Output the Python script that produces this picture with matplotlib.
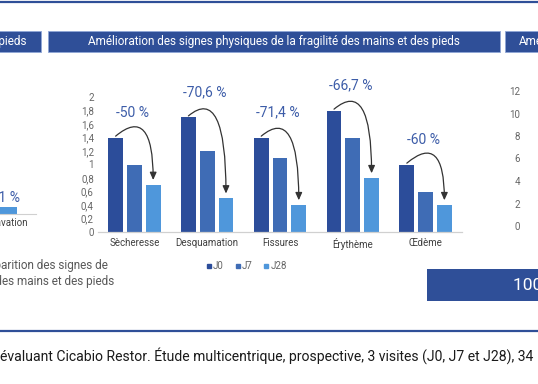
import matplotlib
matplotlib.use("Agg")
import matplotlib.pyplot as plt
from matplotlib.patches import Rectangle
from matplotlib.lines import Line2D
import numpy as np

plt.rcParams['font.family'] = ['Roboto', 'DejaVu Sans']

# ---- data ----
categories = ["Sècheresse", "Desquamation", "Fissures", "Érythème", "Œdème"]
series_names = ["J0", "J7", "J28"]
j0 = [1.4, 1.7, 1.4, 1.8, 1.0]
j7 = [1.0, 1.2, 1.1, 1.4, 0.6]
j28 = [0.7, 0.5, 0.4, 0.8, 0.4]
pct_labels = ["-50 %", "-70,6 %", "-71,4 %", "-66,7 %", "-60 %"]
y_ticks = [0, 0.2, 0.4, 0.6, 0.8, 1, 1.2, 1.4, 1.6, 1.8, 2]
y_tick_labels = ["0", "0,2", "0,4", "0,6", "0,8", "1", "1,2", "1,4", "1,6", "1,8", "2"]

left_categories = ["Aggravation"]
left_values = [5.1]
left_labels = ["5,1 %"]

right_ticks = [0, 2, 4, 6, 8, 10, 12]

# ---- style ----
C_J0 = "#2C4D9A"
C_J7 = "#3F6CB5"
C_J28 = "#4F97DB"
C_HEAD = "#2F4F98"
C_PCT = "#3C5CA8"
C_TICK = "#666666"
C_AXIS = "#D0D0D0"

W, H = 538, 384
fig = plt.figure(figsize=(W / 100, H / 100), dpi=100)

def fx(px):
    return px / W

def fy(py):
    return 1 - py / H

# top line & bottom separator line
fig.add_artist(Line2D([0, 1], [fy(1.5), fy(1.5)], color=C_HEAD, lw=1.6, transform=fig.transFigure))
fig.add_artist(Line2D([0, 1], [fy(331), fy(331)], color=C_HEAD, lw=1.6, transform=fig.transFigure))

# header boxes
for (x0, x1) in [(-5, 41), (48, 500), (505, 545)]:
    fig.add_artist(Rectangle((fx(x0), fy(52)), fx(x1 - x0), 21 / H, facecolor=C_HEAD,
                             edgecolor="#8FA6D6", lw=0.6, transform=fig.transFigure))
fig.text(fx(27), fy(41.5), "et des pieds", color="white", fontsize=8.5, ha="right", va="center")
fig.text(fx(274), fy(41.5), "Amélioration des signes physiques de la fragilité des mains et des pieds",
         color="white", fontsize=8.5, ha="center", va="center")
fig.text(fx(519), fy(41.5), "Amélioration", color="white", fontsize=8.5, ha="left", va="center")

# ---- main chart ----
ax = fig.add_axes([fx(98), fy(232), (462 - 98) / W, (232 - 97) / H])
x = np.arange(len(categories))
bw = 0.205
off = 0.258
colors = [C_J0, C_J7, C_J28]
for i, (vals, c) in enumerate(zip([j0, j7, j28], colors)):
    ax.bar(x + (i - 1) * off, vals, width=bw, color=c, zorder=2)

ax.set_xlim(-0.5, len(categories) - 0.5)
ax.set_ylim(0, 2)
ax.set_yticks(y_ticks)
ax.set_yticklabels(y_tick_labels)
ax.set_xticks(x)
ax.set_xticklabels(categories)
ax.tick_params(axis="y", length=0, pad=3, labelsize=7, labelcolor=C_TICK)
ax.tick_params(axis="x", length=0, pad=4, labelsize=7, labelcolor="#404040")
for s in ["top", "right", "left"]:
    ax.spines[s].set_visible(False)
ax.spines["bottom"].set_color(C_AXIS)
ax.spines["bottom"].set_linewidth(0.9)

for i in range(len(categories)):
    ax.annotate("", xy=(x[i] + off, j28[i] + 0.07), xytext=(x[i] - off, j0[i] + 0.02),
                arrowprops=dict(arrowstyle="-|>,head_length=0.45,head_width=0.2",
                                connectionstyle="angle3,angleA=40,angleB=90",
                                color="#333333", lw=0.9, shrinkA=0, shrinkB=0),
                annotation_clip=False)
    ax.text(x[i] - 0.03, j0[i] + 0.37, pct_labels[i], color=C_PCT, fontsize=10,
            ha="center", va="center", clip_on=False)

handles = [Line2D([], [], marker="s", linestyle="none", markersize=3.3, color=c) for c in colors]
leg = fig.legend(handles, series_names, loc="center", bbox_to_anchor=(fx(246), fy(266)),
                 ncol=3, frameon=False, fontsize=7, handletextpad=0.05, columnspacing=1.0,
                 handlelength=0.8, borderpad=0)
for t in leg.get_texts():
    t.set_color(C_TICK)

# ---- left partial panel ----
axl = fig.add_axes([fx(-32), fy(214), 68 / W, 100 / H])
axl.bar(np.arange(len(left_categories)), left_values, width=0.44, color=C_J28, zorder=2)
axl.set_xlim(-0.5, 0.5)
axl.set_ylim(0, 70)
axl.set_yticks([])
axl.set_xticks(np.arange(len(left_categories)))
axl.set_xticklabels(left_categories)
axl.tick_params(axis="x", length=0, pad=3, labelsize=7, labelcolor="#404040")
for s in ["top", "right", "left"]:
    axl.spines[s].set_visible(False)
axl.spines["bottom"].set_color(C_AXIS)
axl.patch.set_alpha(0)
for i, v in enumerate(left_values):
    axl.text(i + 0.03, v + 6.8, left_labels[i], color=C_PCT, fontsize=10, ha="center", va="center")

fig.text(fx(108), fy(266), "d'apparition des signes de", color="#595959", fontsize=8.5,
         ha="right", va="center")
fig.text(fx(114), fy(281), "fragilité des mains et des pieds", color="#595959", fontsize=8.5,
         ha="right", va="center")

# ---- right partial panel ----
axr = fig.add_axes([fx(524), fy(226), 20 / W, (226 - 91) / H])
axr.set_ylim(0, 12)
axr.set_yticks(right_ticks)
axr.set_yticklabels([str(t) for t in right_ticks])
axr.set_xticks([])
axr.tick_params(axis="y", length=0, pad=3, labelsize=7, labelcolor=C_TICK)
for s in axr.spines.values():
    s.set_visible(False)
axr.patch.set_alpha(0)

# bottom-right box
fig.add_artist(Rectangle((fx(427), fy(301)), fx(120), 32 / H, facecolor=C_HEAD,
                         edgecolor="none", transform=fig.transFigure))
fig.text(fx(513), fy(285), "100 %", color="white", fontsize=12.5, ha="left", va="center")

# footnote
fig.text(fx(0.5), fy(356), "évaluant Cicabio Restor. Étude multicentrique, prospective, 3 visites (J0, J7 et J28), 34",
         color="#1A1A1A", fontsize=10.1, ha="left", va="center")

fig.savefig("out.png", dpi=100)
